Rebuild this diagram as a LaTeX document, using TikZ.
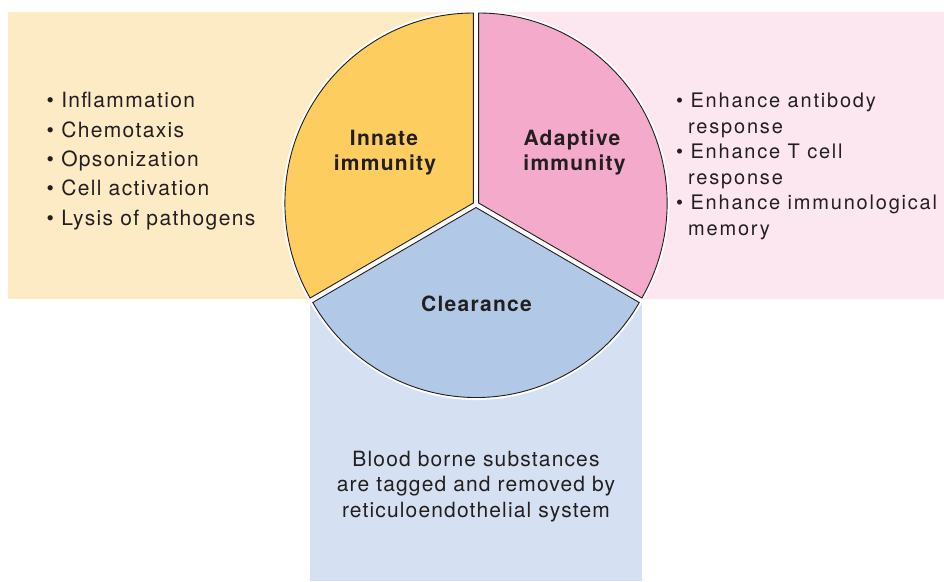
\documentclass[tikz,border=0pt]{standalone}
\usepackage{fontspec}
\setmainfont{TeX Gyre Heros}
\newfontfamily\lfont{TeX Gyre Heros}[LetterSpace=6.5]
\newfontfamily\cfont{TeX Gyre Heros}[LetterSpace=5.5]
\newfontfamily\rfont{TeX Gyre Heros}[LetterSpace=9]
\newfontfamily\bfont{TeX Gyre Heros}[LetterSpace=6]
\definecolor{txt}{HTML}{231F20}
\definecolor{ybg}{HTML}{FDEBC6}
\definecolor{ysec}{HTML}{FDCD5F}
\definecolor{pbg}{HTML}{FCE6EF}
\definecolor{psec}{HTML}{F3AACB}
\definecolor{bbg}{HTML}{D5E1F2}
\definecolor{bsec}{HTML}{B2C8E7}
\begin{document}
\begin{tikzpicture}[x=1pt,y=-1pt,
  ltxt/.style={anchor=base west, inner sep=0pt, text=txt, font=\lfont\fontsize{21}{24}\selectfont},
  rtxt/.style={anchor=base west, inner sep=0pt, text=txt, font=\rfont\fontsize{20}{22}\selectfont},
  ctxt/.style={anchor=base, inner sep=0pt, text=txt, font=\cfont\fontsize{21}{24}\selectfont},
  blab/.style={anchor=base, inner sep=0pt, text=txt, font=\bfont\bfseries\fontsize{21}{24}\selectfont},
  halo/.style={draw=white, line width=5pt},
  sector/.style={draw=txt, line width=0.9pt},
  rad/.style={x radius=188.5, y radius=190}]
\useasboundingbox (0,0) rectangle (944,581);
% backgrounds
\fill[ybg] (8,12) rectangle (476,299);
\fill[pbg] (476,12) rectangle (944,299);
\fill[bbg] (310,299) rectangle (642,581);
% sectors
\coordinate (yc) at (473.4,203);
\coordinate (pc) at (478.6,203);
\coordinate (bc) at (476,207.5);
\path[halo] (yc) -- +(270:188.5 and 190) arc[start angle=270,end angle=150,rad] -- cycle;
\path[halo] (pc) -- +(30:188.5 and 190) arc[start angle=30,end angle=-90,rad] -- cycle;
\path[halo] (bc) -- +(150:188.5 and 190) arc[start angle=150,end angle=30,rad] -- cycle;
\path[sector,fill=ysec] (yc) -- +(270:188.5 and 190) arc[start angle=270,end angle=150,rad] -- cycle;
\path[sector,fill=psec] (pc) -- +(30:188.5 and 190) arc[start angle=30,end angle=-90,rad] -- cycle;
\path[sector,fill=bsec] (bc) -- +(150:188.5 and 190) arc[start angle=150,end angle=30,rad] -- cycle;
% sector labels
\node[blab] (inn1) at (384,145) {Innate};
\node[blab] (inn2) at (385,170) {immunity};
\node[blab] (ada1) at (572,145) {Adaptive};
\node[blab] (ada2) at (574.5,170) {immunity};
\node[blab] (clr) at (476.5,311.7) {Clearance};
% left list
\node[ltxt] (l1) at (46.5,107.7) {\textbullet\ Inflammation};
\node[ltxt] (l2) at (46.5,137) {\textbullet\ Chemotaxis};
\node[ltxt] (l3) at (46.5,166.4) {\textbullet\ Opsonization};
\node[ltxt] (l4) at (46.5,195.7) {\textbullet\ Cell activation};
\node[ltxt] (l5) at (46.5,225) {\textbullet\ Lysis of pathogens};
% right list
\node[rtxt] (r1) at (676,107.7) {\textbullet\ Enhance antibody};
\node[rtxt] (r2) at (688,133.2) {response};
\node[rtxt] (r3) at (676,158.7) {\textbullet\ Enhance T cell};
\node[rtxt] (r4) at (688,184.2) {response};
\node[rtxt] (r5) at (676,209.7) {\textbullet\ Enhance immunological};
\node[rtxt] (r6) at (688,235.2) {memory};
% bottom text
\node[ctxt] (b1) at (476,466) {Blood borne substances};
\node[ctxt] (b2) at (476,491.5) {are tagged and removed by};
\node[ctxt] (b3) at (476,517) {reticuloendothelial system};
\end{tikzpicture}
\end{document}
